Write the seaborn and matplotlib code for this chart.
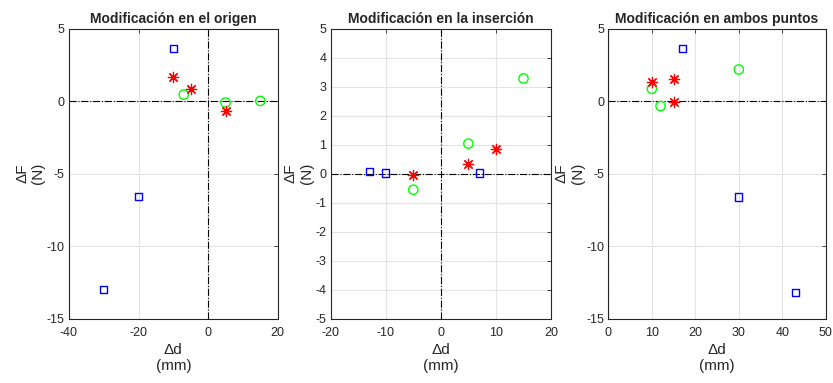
import matplotlib
matplotlib.use("Agg")
import matplotlib.pyplot as plt
import seaborn as sns

# panel titles and axis setup
titles = ["Modificación en el origen", "Modificación en la inserción", "Modificación en ambos puntos"]
xlims = [(-40, 20), (-20, 20), (0, 50)]
ylims = [(-15, 5), (-5, 5), (-15, 5)]
xticks = [[-40, -20, 0, 20], [-20, -10, 0, 10, 20], [0, 10, 20, 30, 40, 50]]
yticks = [[-15, -10, -5, 0, 5], [-5, -4, -3, -2, -1, 0, 1, 2, 3, 4, 5], [-15, -10, -5, 0, 5]]

# blue squares
sq_x = [[-10, -20, -30], [-13, -10, 7], [17, 30, 43]]
sq_y = [[3.65, -6.55, -13.0], [0.08, 0.02, 0.02], [3.65, -6.6, -13.2]]
# red asterisks
st_x = [[-10, -5, 5], [-5, 5, 10], [10, 15, 15]]
st_y = [[1.7, 0.85, -0.65], [-0.04, 0.34, 0.84], [1.33, 1.55, -0.05]]
# green circles
ci_x = [[-7, 5, 15], [-5, 5, 15], [10, 12, 30]]
ci_y = [[0.47, -0.08, 0.03], [-0.55, 1.04, 3.29], [0.87, -0.32, 2.2]]

sns.set_theme(style="whitegrid")
plt.rcParams["font.family"] = ["Liberation Sans", "DejaVu Sans"]
plt.rcParams["axes.unicode_minus"] = False
plt.rcParams["axes.edgecolor"] = "#262626"
plt.rcParams["xtick.color"] = "#262626"
plt.rcParams["ytick.color"] = "#262626"
plt.rcParams["grid.color"] = "#e3e3e3"

fig = plt.figure(figsize=(8.33, 3.83), dpi=100)
lefts = [0.0828, 0.397, 0.7303]
widths = [0.2506, 0.2645, 0.261]

for i in range(3):
    ax = fig.add_axes([lefts[i], 0.1684, widths[i], 0.7559])
    ax.axhline(0, color="black", lw=0.8, ls="-.", zorder=1)
    ax.axvline(0, color="black", lw=0.8, ls="-.", zorder=1)
    sns.scatterplot(x=sq_x[i], y=sq_y[i], ax=ax, marker="s", s=28,
                    facecolor="none", edgecolor=(0, 0, 1), linewidth=1.0, zorder=3)
    sns.scatterplot(x=ci_x[i], y=ci_y[i], ax=ax, marker="o", s=45,
                    facecolor="none", edgecolor=(0, 1, 0), linewidth=1.0, zorder=3)
    sns.scatterplot(x=st_x[i], y=st_y[i], ax=ax, marker=(8, 2, 0), s=55,
                    color=(1, 0, 0), linewidth=0.9, zorder=3)
    ax.set_xlim(*xlims[i])
    ax.set_ylim(*ylims[i])
    ax.set_xticks(xticks[i])
    ax.set_yticks(yticks[i])
    ax.tick_params(axis="both", labelsize=9, direction="in", length=3, width=0.6,
                   top=True, right=True)
    ax.tick_params(axis="x", pad=6)
    ax.tick_params(axis="y", pad=3)
    for sp in ax.spines.values():
        sp.set_linewidth(0.8)
        sp.set_color("#262626")
    ax.grid(True, lw=0.8)
    ax.set_axisbelow(True)
    ax.set_title(titles[i], fontsize=10, fontweight="bold", pad=4)
    ax.set_xlabel("\u0394d\n(mm)", fontsize=11, color="#262626", labelpad=3)
    ax.set_ylabel("\u0394F\n(N)", fontsize=11, color="#262626", labelpad=1)

fig.savefig("out.png", dpi=100)
